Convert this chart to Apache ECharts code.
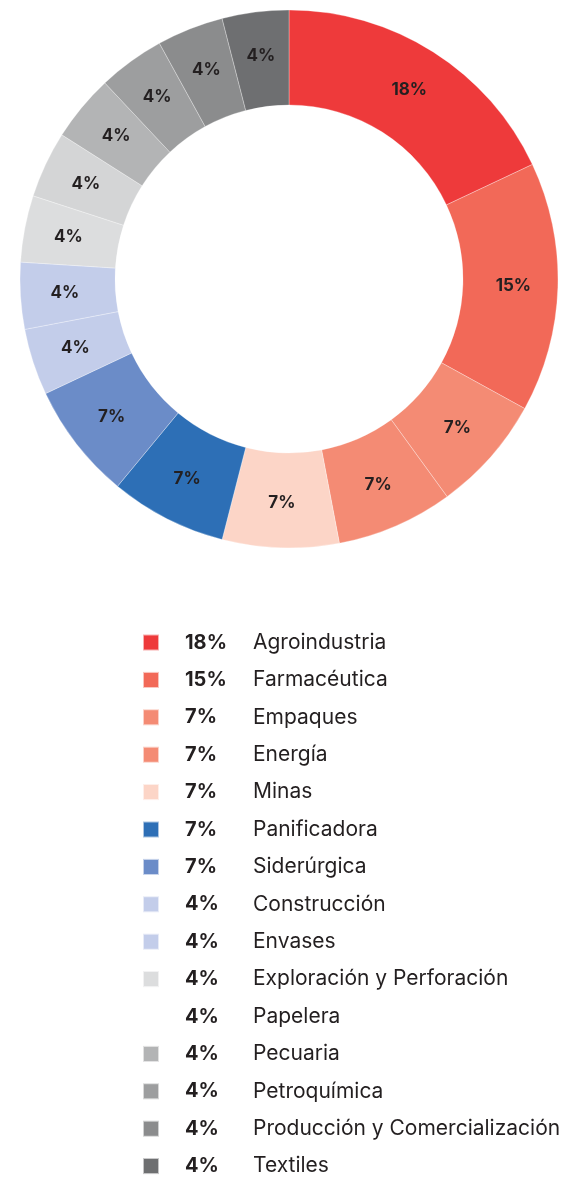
<!DOCTYPE html>
<html>
<head>
<meta charset="utf-8">
<script src="https://cdn.jsdelivr.net/npm/echarts@6/dist/echarts.min.js"></script>
<style>
	html, body { margin: 0; padding: 0; background: #fff; }
	#main { width: 573px; height: 1177px; }
</style>
</head>
<body>
<div id="main"></div>
<script>
var sectores = ['Agroindustria', 'Farmacéutica', 'Empaques', 'Energía', 'Minas', 'Panificadora', 'Siderúrgica',
	'Construcción', 'Envases', 'Exploración y Perforación', 'Papelera', 'Pecuaria', 'Petroquímica',
	'Producción y Comercialización', 'Textiles'];
var porcentajes = [18, 15, 7, 7, 7, 7, 7, 4, 4, 4, 4, 4, 4, 4, 4];
var colores = ['#ee3a3b', '#f26958', '#f48b74', '#f48b74', '#fcd5c7', '#2d6fb6', '#6b8cc8',
	'#c3cdea', '#c3cdea', '#dcddde', '#d4d5d6', '#b3b4b5', '#9d9e9f', '#8b8c8d', '#6e6f71'];
// en la leyenda original Papelera no lleva cuadro
var sinCuadro = ['Papelera'];

function getPieData() {
	var data = new Array();
	for(var i = 0; i < sectores.length; i++) {
		data[i] = {
			name: sectores[i],
			value: porcentajes[i],
			itemStyle: { color: colores[i] }
		};
	}
	return data;
}

function getLegendData() {
	var data = new Array();
	for(var i = 0; i < sectores.length; i++) {
		var item = { name: sectores[i] };
		if(sinCuadro.indexOf(sectores[i]) >= 0) item.itemStyle = { opacity: 0 };
		data[i] = item;
	}
	return data;
}

var fuente = 'Inter, "Noto Sans", sans-serif';
var mychart = echarts.init(document.getElementById('main'));
var option = {
	animation: false,
	legend: {
		orient: 'vertical',
		left: 142,
		top: 632,
		height: 800,
		padding: 0,
		icon: 'rect',
		itemWidth: 16,
		itemHeight: 16,
		itemGap: 16.4,
		selectedMode: false,
		data: getLegendData(),
		formatter: function(name) {
			var i = sectores.indexOf(name);
			return '{p|' + porcentajes[i] + '%}{n|' + name + '}';
		},
		textStyle: {
			fontSize: 12,
			lineHeight: 16,
			rich: {
				p: {
					fontFamily: fuente,
					fontWeight: 'bold',
					fontSize: 20,
					color: '#231f20',
					width: 68,
					height: 16,
					lineHeight: 16,
					padding: [0, 0, 0, 21],
					verticalAlign: 'top'
				},
				n: {
					fontFamily: fuente,
					fontSize: 21,
					color: '#231f20',
					height: 16,
					lineHeight: 12,
					verticalAlign: 'top'
				}
			}
		}
	},
	series: [{
		name: 'Sectores',
		type: 'pie',
		center: [289, 279],
		radius: [174, 269],
		startAngle: 90,
		clockwise: true,
		avoidLabelOverlap: false,
		itemStyle: {
			borderColor: 'rgba(255,255,255,0.6)',
			borderWidth: 0.5
		},
		label: {
			show: true,
			position: 'inside',
			formatter: '{c}%',
			fontFamily: fuente,
			fontWeight: 'bold',
			fontSize: 17,
			color: '#231f20'
		},
		labelLine: { show: false },
		emphasis: { disabled: true },
		data: getPieData()
	}]
};
mychart.setOption(option);
</script>
</body>
</html>
